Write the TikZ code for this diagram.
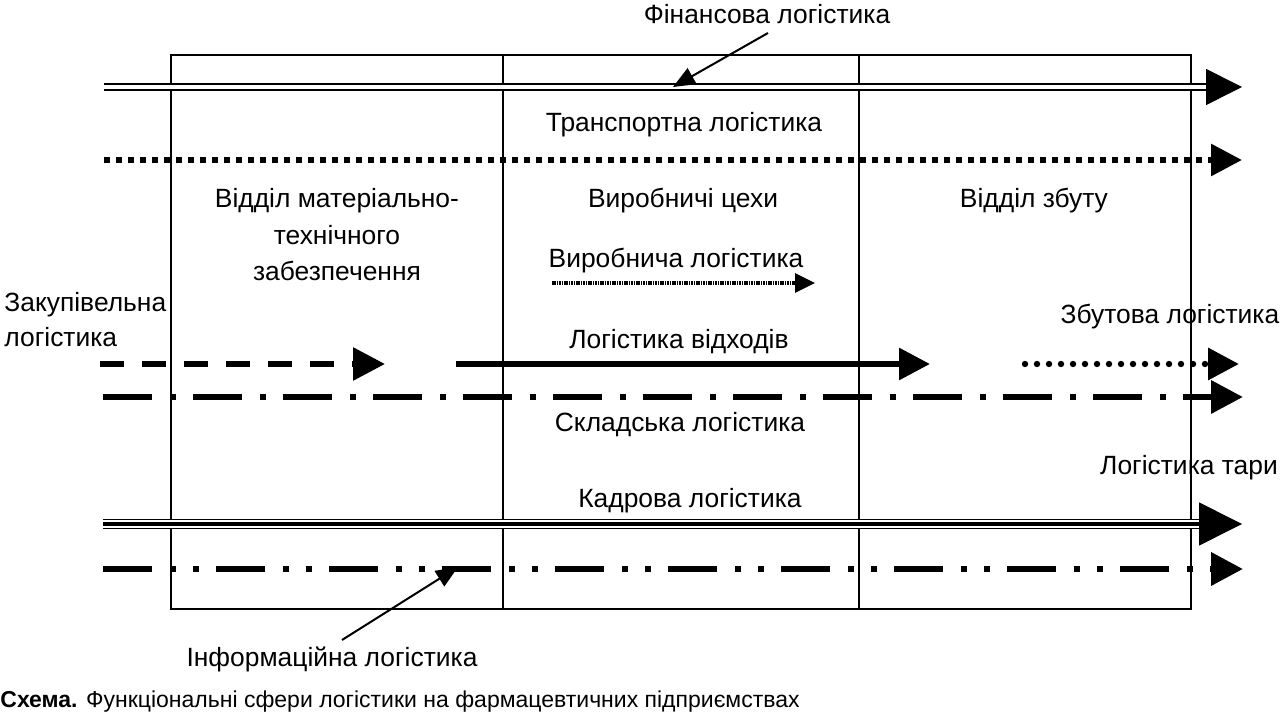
\documentclass[tikz,border=0pt]{standalone}
\usepackage{fontspec}
\setmainfont{Liberation Sans}
\usetikzlibrary{arrows.meta}
\tikzset{
	lbl/.style = {anchor = base, inner sep = 0pt, font = \fontsize{13.2}{15}\selectfont},
	bigtip/.style = {-{Triangle[length=#1, width=#1]}},
	frame/.style = {line width = 1pt},
	fin line/.style = {double, line width = 0.85pt, double distance = 2pt},
	trans line/.style = {line width = 3pt, dash pattern = on 3pt off 3pt},
	zak line/.style = {line width = 3pt, dash pattern = on 12pt off 9pt},
	vid line/.style = {line width = 3pt},
	zbut line/.style = {line width = 3.2pt, line cap = round, dash pattern = on 0pt off 6pt},
	skl line/.style = {line width = 3.3pt, dash pattern = on 24.5pt off 9pt on 3pt off 8.5pt},
	kadr line/.style = {double, line width = 0.6pt, double distance = 3.8pt},
	inf line/.style = {line width = 3.4pt, dash pattern = on 24.5pt off 9pt on 3pt off 8.5pt on 3pt off 8.5pt},
	vyr line/.style = {line width = 1.6pt, dash pattern = on 0.8pt off 0.4pt},
	pointer/.style = {line width = 1pt, -{Triangle[length=11pt, width=9pt]}}
}

\begin{document}
\begin{tikzpicture}[x = 0.5pt, y = -0.5pt]
	\useasboundingbox (0,0) rectangle (1280,715);
	% departments
	\draw[frame] (171,55) rectangle (1191,609);
	\draw[frame] (503,55) -- (503,609);
	\draw[frame] (859,55) -- (859,609);
	%
	\coordinate (finL) at (104,87);
	\coordinate (finB) at (1206,87);
	\coordinate (finR) at (1242,87);
	\draw[fin line] (finL) -- (finB);
	\draw[bigtip=18pt, line width = 0.8pt] (finB) -- (finR);
	%
	\coordinate (transL) at (104,160);
	\coordinate (transR) at (1242,160);
	\draw[trans line, bigtip=15.5pt] (transL) -- (transR);
	%
	\coordinate (vyrL) at (552,283);
	\coordinate (vyrR) at (815,283);
	\draw[vyr line, -{Triangle[length=10pt, width=9.5pt]}] (vyrL) -- (vyrR);
	%
	\coordinate (zakL) at (100,364);
	\coordinate (zakR) at (385,364);
	\draw[zak line, bigtip=16pt] (zakL) -- (zakR);
	\coordinate (vidL) at (456,364);
	\coordinate (vidR) at (930,364);
	\draw[vid line, bigtip=15.5pt] (vidL) -- (vidR);
	\coordinate (zbutL) at (1025,364);
	\coordinate (zbutR) at (1239,364);
	\draw[zbut line, bigtip=15.5pt] (zbutL) -- (zbutR);
	%
	\coordinate (sklL) at (103,397);
	\coordinate (sklR) at (1243,397);
	\draw[skl line, bigtip=16pt] (sklL) -- (sklR);
	%
	\coordinate (kadrL) at (103,524);
	\coordinate (kadrB) at (1199,524);
	\coordinate (kadrR) at (1242,524);
	\draw[kadr line] (kadrL) -- (kadrB);
	\draw[line width = 2.4pt] (kadrL) -- (kadrB);
	\draw[bigtip=21.5pt, line width = 0.8pt] (kadrB) -- (kadrR);
	%
	\coordinate (infL) at (103,569);
	\coordinate (infR) at (1243,569);
	\draw[inf line, bigtip=16pt] (infL) -- (infR);
	% labels
	\node (fin) [lbl] at (767,24) {Фінансова логістика};
	\node (trans) [lbl] at (684,132) {Транспортна логістика};
	\node (mts1) [lbl] at (337,208) {Відділ матеріально-};
	\node (mts2) [lbl] at (337,245) {технічного};
	\node (mts3) [lbl] at (337,281) {забезпечення};
	\node (cekh) [lbl] at (683,208) {Виробничі цехи};
	\node (zbut) [lbl] at (1034,208) {Відділ збуту};
	\node (vyr) [lbl] at (676,268) {Виробнича логістика};
	\node (zak1) [lbl, anchor = base west] at (4,312) {Закупівельна};
	\node (zak2) [lbl, anchor = base west] at (4,347) {логістика};
	\node (zbutl) [lbl] at (1170,324) {Збутова логістика};
	\node (vid) [lbl] at (679,349) {Логістика відходів};
	\node (skl) [lbl] at (680,432) {Складська логістика};
	\node (tara) [lbl] at (1189,475) {Логістика тари};
	\node (kadr) [lbl] at (690,508) {Кадрова логістика};
	\node (inf) [lbl] at (332,667) {Інформаційна логістика};
	%
	\coordinate (finT) at (673,87);
	\coordinate (infT) at (458,567);
	\draw[pointer] (768,33) coordinate (finS) -- (finT);
	\draw[pointer] (342,640) coordinate (infS) -- (infT);
	%
	\node (caption) [lbl, anchor = base west, font = \fontsize{11.5}{13}\selectfont] at (0,707)
		{\textbf{Схема.} Функціональні сфери логістики на фармацевтичних підприємствах};
\end{tikzpicture}
\end{document}
